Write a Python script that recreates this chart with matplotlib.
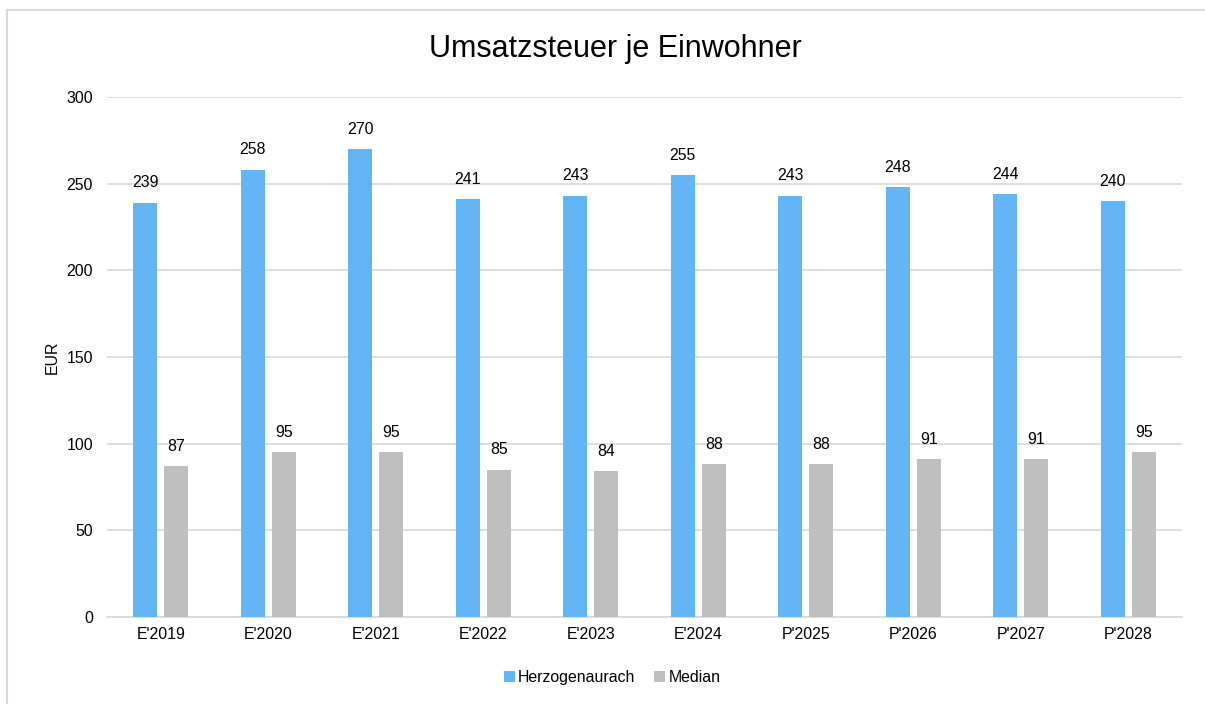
import matplotlib
matplotlib.use("Agg")
import matplotlib.pyplot as plt
import numpy as np

# Daten
categories = ["E'2019", "E'2020", "E'2021", "E'2022", "E'2023",
              "E'2024", "P'2025", "P'2026", "P'2027", "P'2028"]
herzogenaurach = [239, 258, 270, 241, 243, 255, 243, 248, 244, 240]
median = [87, 95, 95, 85, 84, 88, 88, 91, 91, 95]

plt.rcParams['font.family'] = ['Liberation Sans', 'DejaVu Sans']
fs = 11.4

fig = plt.figure(figsize=(12.05, 7.04), dpi=100)
ax = fig.add_axes([0.0888, 0.1236, 0.8921, 0.7386])

x = np.arange(len(categories))
w = 0.222
off = 0.145
b1 = ax.bar(x - off, herzogenaurach, w, color='#63B5F6', label='Herzogenaurach', zorder=3)
b2 = ax.bar(x + off, median, w, color='#BFBFBF', label='Median', zorder=3)

for bars in (b1, b2):
    for r in bars:
        ax.annotate(f"{int(r.get_height())}", (r.get_x() + r.get_width() / 2, r.get_height()),
                    xytext=(0, 9), textcoords='offset points',
                    ha='center', va='bottom', fontsize=fs, color='#000000')

ax.set_xlim(-0.5, len(categories) - 0.5)
ax.set_ylim(0, 300)
ax.set_yticks(range(0, 301, 50))
ax.set_xticks(x)
ax.set_xticklabels(categories)
ax.tick_params(axis='both', length=0, labelsize=fs, colors='#000000')
ax.tick_params(axis='y', pad=10)
ax.tick_params(axis='x', pad=7)
ax.grid(axis='y', color='#D9D9D9', linewidth=1.2, zorder=0)
for s in ['top', 'right', 'left']:
    ax.spines[s].set_visible(False)
ax.spines['bottom'].set_color('#D9D9D9')
ax.spines['bottom'].set_linewidth(1.2)
ax.set_ylabel("EUR", fontsize=fs, labelpad=5)

fig.text(0.511, 0.931, "Umsatzsteuer je Einwohner", ha='center', va='center', fontsize=22)

fig.legend(handles=[b1, b2], loc='center', bbox_to_anchor=(0.508, 0.037), ncol=2,
           frameon=False, fontsize=fs, handlelength=0.7, handleheight=0.7,
           handletextpad=0.2, columnspacing=1.2)

# Rahmen oben und links
fig.add_artist(plt.Line2D([7 / 1205, 1], [1 - 9.5 / 704, 1 - 9.5 / 704], color='#D9D9D9', lw=1.5))
fig.add_artist(plt.Line2D([7 / 1205, 7 / 1205], [0, 1 - 9.5 / 704], color='#D9D9D9', lw=1.5))

fig.savefig("out.png", dpi=100)
